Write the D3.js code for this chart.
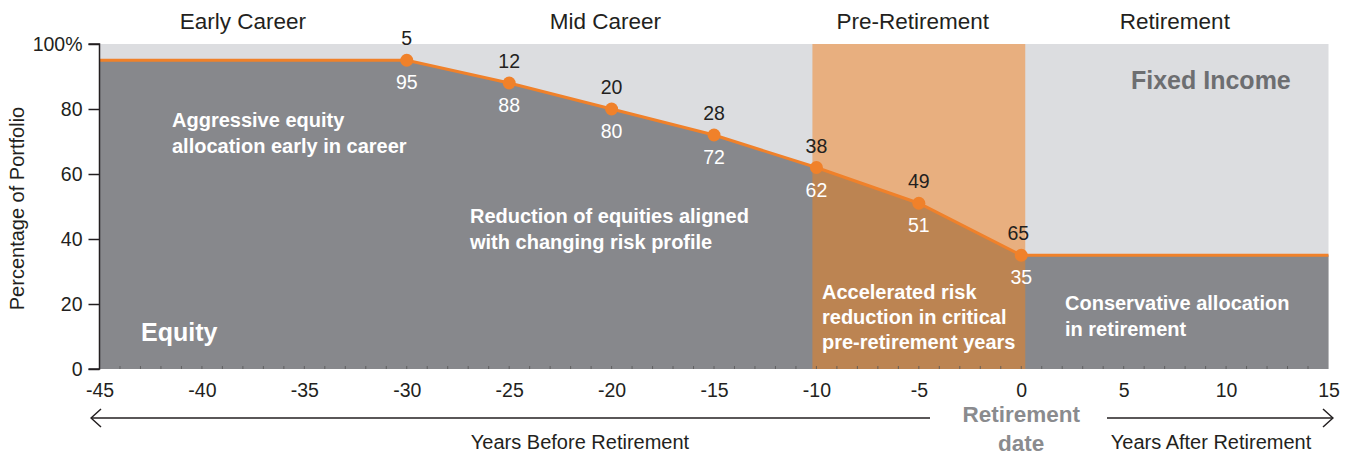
<!DOCTYPE html>
<html>
<head>
<meta charset="utf-8">
<script src="https://cdn.jsdelivr.net/npm/d3@7"></script>
<style>
  body { margin: 0; background: #fff; }
  svg { font-family: "Liberation Sans", Arial, sans-serif; }
</style>
</head>
<body>
<svg id="chart" width="1347" height="456"></svg>
<script>
// glide path data
var years = [-45, -30, -25, -20, -15, -10, -5, 0, 15];
var equity = [95, 95, 88, 80, 72, 62, 51, 35, 35];
var labelYears = [-30, -25, -20, -15, -10, -5, 0];
var equityLabels = [95, 88, 80, 72, 62, 51, 35];
var fixedLabels = [5, 12, 20, 28, 38, 49, 65];
var xTicks = [-45, -40, -35, -30, -25, -20, -15, -10, -5, 0, 5, 10, 15];
var yTicks = [0, 20, 40, 60, 80, 100];
var phases = ["Early Career", "Mid Career", "Pre-Retirement", "Retirement"];
var phaseCenters = [-38, -20.3, -5.3, 7.5];
var preRetirement = [-10, 0];

var svg = d3.select("#chart");
var ff = "Liberation Sans, Arial, sans-serif";

var x = d3.scaleLinear().domain([-45, 15]).range([99.5, 1328.5]);
var y = d3.scaleLinear().domain([0, 100]).range([369, 44]);

var data = years.map((d, i) => ({yr: d, eq: equity[i]}));

// background (fixed income)
svg.append("rect")
    .attr("x", x(-45)).attr("y", y(100))
    .attr("width", x(15) - x(-45)).attr("height", y(0) - y(100))
    .attr("fill", "#dcdde0");

// pre-retirement band
var bandPad = 4;
svg.append("rect")
    .attr("x", x(preRetirement[0]) - bandPad).attr("y", y(100))
    .attr("width", x(preRetirement[1]) - x(preRetirement[0]) + bandPad * 2)
    .attr("height", y(0) - y(100))
    .attr("fill", "#e8af7f");

// equity area
var area = d3.area().x(d => x(d.yr)).y0(y(0)).y1(d => y(d.eq));
svg.append("path").datum(data).attr("d", area).attr("fill", "#87888c");

// equity area inside the band
svg.append("clipPath").attr("id", "bandClip")
    .append("rect")
    .attr("x", x(preRetirement[0]) - bandPad).attr("y", y(100))
    .attr("width", x(preRetirement[1]) - x(preRetirement[0]) + bandPad * 2)
    .attr("height", y(0) - y(100));
svg.append("path").datum(data).attr("d", area)
    .attr("fill", "#bc8452").attr("clip-path", "url(#bandClip)");

// minor ticks along bottom
svg.append("g").selectAll("line")
    .data(d3.range(-44, 15))
    .enter().append("line")
    .attr("x1", d => x(d)).attr("x2", d => x(d))
    .attr("y1", y(0)).attr("y2", y(0) - 3)
    .attr("stroke", "#555").attr("stroke-width", 0.8);

// line + dots
var line = d3.line().x(d => x(d.yr)).y(d => y(d.eq));
svg.append("path").datum(data).attr("d", line)
    .attr("fill", "none").attr("stroke", "#f0812a").attr("stroke-width", 3);

svg.selectAll(".dot")
    .data(labelYears)
    .enter().append("circle")
    .attr("cx", d => x(d))
    .attr("cy", (d, i) => y(equityLabels[i]))
    .attr("r", 6.5)
    .attr("fill", "#f0812a");

// point labels
svg.selectAll(".fiLab")
    .data(labelYears)
    .enter().append("text")
    .attr("x", (d, i) => x(d) + (i == labelYears.length - 1 ? -3 : 0))
    .attr("y", (d, i) => y(equityLabels[i]) - 15)
    .attr("text-anchor", "middle")
    .attr("font-size", 19.5).attr("fill", "#231f20")
    .text((d, i) => fixedLabels[i]);

svg.selectAll(".eqLab")
    .data(labelYears)
    .enter().append("text")
    .attr("x", d => x(d))
    .attr("y", (d, i) => y(equityLabels[i]) + 29)
    .attr("text-anchor", "middle")
    .attr("font-size", 19.5).attr("fill", "#fff")
    .text((d, i) => equityLabels[i]);

// y axis
var yAxis = d3.axisLeft(y).tickValues(yTicks).tickSize(11).tickPadding(6)
    .tickFormat(d => d == 100 ? "100%" : d);
var gy = svg.append("g").attr("transform", "translate(" + x(-45) + ",0)").call(yAxis);
gy.select(".domain").attr("d", "M-11," + y(100) + "H0V" + y(0) + "H-11").attr("stroke", "#231f20").attr("stroke-width", 1.5);
gy.selectAll(".tick line").attr("stroke", "#231f20").attr("stroke-width", 1.5);
gy.selectAll("text").attr("font-size", 19.5).attr("fill", "#231f20").attr("font-family", ff);

// x axis
var xAxis = d3.axisBottom(x).tickValues(xTicks).tickSize(0).tickPadding(14.5)
    .tickFormat(d => String(d));
var gx = svg.append("g").attr("transform", "translate(0," + y(0) + ")").call(xAxis);
gx.select(".domain").remove();
gx.selectAll("text").attr("font-size", 19.5).attr("fill", "#231f20").attr("font-family", ff);

svg.append("text")
    .attr("transform", "translate(24," + (y(50) + 2) + ") rotate(-90)")
    .attr("text-anchor", "middle").attr("font-size", 20).attr("fill", "#231f20")
    .text("Percentage of Portfolio");

// phase headers
svg.selectAll(".phase")
    .data(phases)
    .enter().append("text")
    .attr("x", (d, i) => x(phaseCenters[i]))
    .attr("y", 29)
    .attr("text-anchor", "middle")
    .attr("font-size", 22.5).attr("fill", "#231f20")
    .text(d => d);

// annotations
function note(lines, px, py, size, color, lh) {
    var t = svg.append("text").attr("x", px).attr("y", py)
        .attr("font-size", size).attr("font-weight", "bold").attr("fill", color);
    lines.forEach((l, i) => t.append("tspan").attr("x", px).attr("dy", i ? lh : 0).text(l));
}
note(["Aggressive equity", "allocation early in career"], 172, 127, 20, "#fff", 25.5);
note(["Reduction of equities aligned", "with changing risk profile"], 470, 223, 20, "#fff", 26);
note(["Accelerated risk", "reduction in critical", "pre-retirement years"], 822, 299, 20, "#fff", 25);
note(["Conservative allocation", "in retirement"], 1065, 310, 20, "#fff", 26);
note(["Equity"], 141, 341, 25, "#fff", 0);
note(["Fixed Income"], 1131, 89, 25, "#6d6e71", 0);

// bottom arrows and captions
var defs = svg.append("defs");
defs.append("marker").attr("id", "arrowL").attr("viewBox", "0 0 12 20")
    .attr("refX", 1).attr("refY", 10).attr("markerWidth", 12).attr("markerHeight", 20)
    .attr("markerUnits", "userSpaceOnUse").attr("orient", "auto")
    .append("path").attr("d", "M11,1 L1,10 L11,19").attr("fill", "none").attr("stroke", "#231f20").attr("stroke-width", 1.5);

svg.append("line").attr("x1", 91).attr("x2", 930).attr("y1", 418).attr("y2", 418)
    .attr("stroke", "#231f20").attr("stroke-width", 1.5).attr("marker-start", "url(#arrowL)");
svg.append("line").attr("x1", 1333).attr("x2", 1107).attr("y1", 418).attr("y2", 418)
    .attr("stroke", "#231f20").attr("stroke-width", 1.5).attr("marker-start", "url(#arrowL)");

svg.append("text").attr("x", 580).attr("y", 449).attr("text-anchor", "middle")
    .attr("font-size", 20).attr("fill", "#231f20").text("Years Before Retirement");
svg.append("text").attr("x", 1211).attr("y", 449).attr("text-anchor", "middle")
    .attr("font-size", 20).attr("fill", "#231f20").text("Years After Retirement");

var rd = svg.append("text").attr("x", x(0)).attr("y", 422).attr("text-anchor", "middle")
    .attr("font-size", 22.5).attr("font-weight", "bold").attr("fill", "#8a8b8e");
rd.append("tspan").attr("x", x(0)).attr("dy", 0).text("Retirement");
rd.append("tspan").attr("x", x(0)).attr("dy", 29).text("date");
</script>
</body>
</html>
